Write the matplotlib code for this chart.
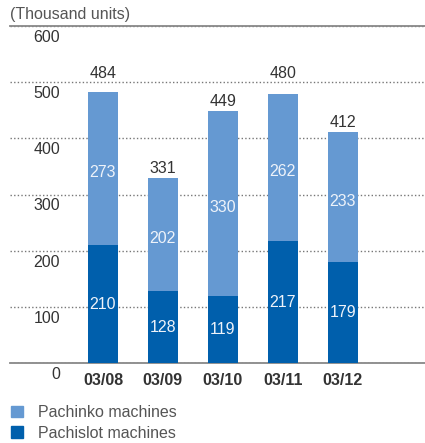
import matplotlib.pyplot as plt
import matplotlib.transforms as mtransforms
from matplotlib.patches import Patch

plt.rcParams['font.family'] = ['Liberation Sans', 'DejaVu Sans']

years = ['03/08', '03/09', '03/10', '03/11', '03/12']
pachislot = [210, 128, 119, 217, 179]
pachinko = [273, 202, 330, 262, 233]
totals = [484, 331, 449, 480, 412]
yticks = [0, 100, 200, 300, 400, 500, 600]

light = '#6599d2'
dark = '#005fac'
txt = '#333333'
fs = 11.5

fig = plt.figure(figsize=(4.25, 4.43), dpi=100)
ax = fig.add_axes([10 / 425, 1 - 363 / 443, 1 - 10 / 425, (363 - 26) / 443])

x = list(range(len(years)))
ax.bar(x, pachislot, width=0.5, color=dark, zorder=3)
ax.bar(x, pachinko, width=0.5, bottom=pachislot, color=light, zorder=3)

# values inside the bars
for i in x:
    ax.annotate(str(pachislot[i]), (i, pachislot[i] / 2), ha='center', va='center',
                color='#eef3fa', fontsize=fs, zorder=4)
    ax.annotate(str(pachinko[i]), (i, pachislot[i] + pachinko[i] / 2),
                xytext=(0, -3), textcoords='offset points', ha='center', va='center',
                color='#eef3fa', fontsize=fs, zorder=4)
    # totals, kept clear of the grid line just above
    t = totals[i]
    nxt = (t // 100 + 1) * 100
    if nxt - t < 30:
        ax.annotate(str(t), (i, nxt), xytext=(0, 1), textcoords='offset points',
                    ha='center', va='bottom', color=txt, fontsize=fs)
    else:
        ax.annotate(str(t), (i, t), xytext=(0, 1), textcoords='offset points',
                    ha='center', va='bottom', color=txt, fontsize=fs)

ax.set_xlim(-1.55, 5.37)
ax.set_ylim(0, 600)
ax.set_xticks(x)
ax.set_xticklabels(years, fontweight='bold', color=txt, fontsize=fs)
ax.tick_params(axis='x', length=0, pad=7)

ax.set_yticks(yticks)
ax.set_yticklabels([str(v) for v in yticks], color=txt, fontsize=fs)
ax.tick_params(axis='y', length=0, pad=-36)
offset = mtransforms.ScaledTranslation(0, -10 / 100, fig.dpi_scale_trans)
for lab in ax.get_yticklabels():
    lab.set_transform(lab.get_transform() + offset)

ax.grid(axis='y', color='#777777', lw=1, ls=(0, (1, 1.6)), zorder=0)
ax.set_axisbelow(True)
for s in ['left', 'right']:
    ax.spines[s].set_visible(False)
ax.spines['bottom'].set_color('#888888')
ax.spines['bottom'].set_linewidth(1.3)
ax.spines['top'].set_color('#888888')
ax.spines['top'].set_linewidth(1.3)

fig.text(10 / 425, 1 - 14 / 443, '(Thousand units)', ha='left', va='center',
         color='#555555', fontsize=fs)

handles = [Patch(color=light), Patch(color=dark)]
fig.legend(handles, ['Pachinko machines', 'Pachislot machines'],
           loc='upper left', bbox_to_anchor=(0.0, 1 - 394 / 443), frameon=False,
           fontsize=fs, handlelength=0.75, handleheight=0.75, handletextpad=0.9,
           labelspacing=0.35, borderpad=0.2, labelcolor='#555555')

fig.savefig('out.png', dpi=100)
